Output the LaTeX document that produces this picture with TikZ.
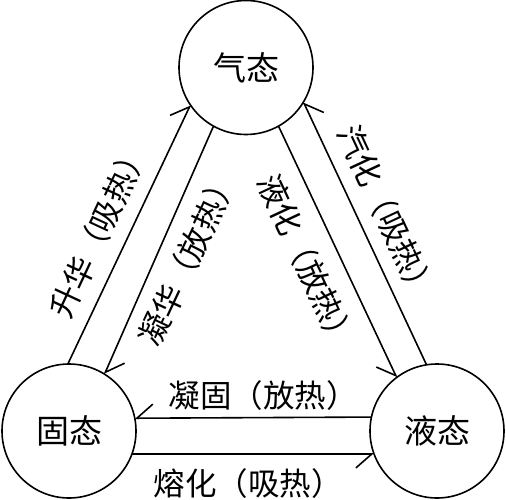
\documentclass[tikz,border=0pt]{standalone}
\usepackage{fontspec}
\setmainfont{Noto Sans CJK SC}
\usetikzlibrary{arrows.meta}
\begin{document}
\begin{tikzpicture}[x=1pt,y=-1pt,
  state/.style={circle,draw,line width=1.6pt,minimum size=134pt,inner sep=0pt,outer sep=0pt,font=\fontsize{33}{40}\selectfont},
  lbl/.style={inner sep=0pt,font=\fontsize{31.5}{36}\selectfont},
  conn/.style={line width=1.6pt},
  hl/.style={conn,-{Straight Barb[left,length=16pt,width=28pt]}},
  hr/.style={conn,-{Straight Barb[right,length=16pt,width=28pt]}}]
\useasboundingbox (0,0) rectangle (506,500);
\node[state] (g) at (246,67.5) {气态};
\node[state] (s) at (69,431) {固态};
\node[state] (l) at (437,431) {液态};
% left pair
\draw[hl] (s.91) -- (g.214.4);
\draw[hl] (g.241.2) -- (s.58.4);
% right pair
\draw[hr] (g.299.5) -- (l.127.9);
\draw[hr] (l.99.3) -- (g.329.3);
% bottom pair
\draw[hr] (l.168.8) -- (s.11.2);
\draw[hr] (s.-20) -- (l.200);
% labels
\node[lbl,rotate=65] (t1) at (99,230) {升华（吸热）};
\node[lbl,rotate=65] (t2) at (188,258) {凝华（放热）};
\node[lbl,rotate=-65] (t3) at (307,262) {液化（放热）};
\node[lbl,rotate=-65] (t4) at (387,213) {汽化（吸热）};
\node[lbl] (t5) at (263,396) {凝固（放热）};
\node[lbl] (t6) at (248,484) {熔化（吸热）};
\end{tikzpicture}
\end{document}
